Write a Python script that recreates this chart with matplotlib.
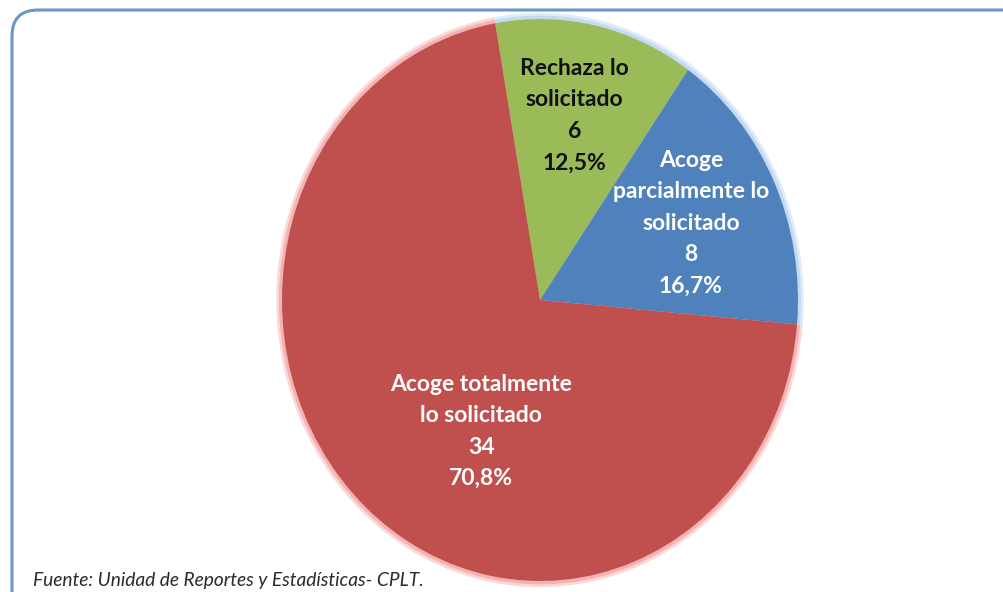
import numpy as np
import matplotlib.pyplot as plt
from matplotlib.patches import FancyBboxPatch

# Datos del gráfico
categorias = ['Rechaza lo\nsolicitado', 'Acoge\nparcialmente lo\nsolicitado',
              'Acoge totalmente\nlo solicitado']
cantidades = [6, 8, 34]
porcentajes = ['12,5%', '16,7%', '70,8%']
colores = ['#9BBB59', '#4F81BD', '#C0504D']
brillos = ['#bcd6f2', '#bcd6f2', '#f4a9a9']
color_texto = ['#111111', 'white', 'white']
fuente = 'Fuente: Unidad de Reportes y Estadísticas- CPLT.'

W, H = 1004, 592
fig = plt.figure(figsize=(W / 100, H / 100), dpi=100)

# Capa de fondo en pixeles (marco y fuente)
fondo = fig.add_axes([0, 0, 1, 1])
fondo.set_xlim(0, W)
fondo.set_ylim(H, 0)
fondo.axis('off')
marco = FancyBboxPatch((12, 10), 1020, 620, boxstyle='round,pad=0,rounding_size=26',
                       fc='white', ec='#6a96c9', lw=2.2)
fondo.add_patch(marco)
fondo.text(33, 589, fuente, fontsize=13.8, style='italic', family='Lato',
           color='#2a2a2a', va='bottom', ha='left')

# Torta elíptica: radio horizontal 258 px, vertical 281 px, centro (540, 300)
ax = fig.add_axes([0, 0, 1, 1])
ax.axis('off')
inicio = 100

# halo difuso alrededor de la torta
for k, a in zip([1.022, 1.012], [0.45, 0.8]):
    ax.pie(cantidades, colors=brillos, startangle=inicio, counterclock=False,
           radius=k, wedgeprops=dict(lw=0, alpha=a))

cuñas, _ = ax.pie(cantidades, colors=colores, startangle=inicio, counterclock=False,
                  radius=1.0, wedgeprops=dict(lw=0))

ax.set_aspect('auto')
ax.set_xlim(-540 / 258, (W - 540) / 258)
ax.set_ylim(-(H - 300) / 281, 300 / 281)

# posición de las etiquetas: (ángulo, distancia radial)
pos_etiquetas = [(78.5, 0.67), (25, 0.645), (244, 0.52)]
for i, (ang, r) in enumerate(pos_etiquetas):
    x = r * np.cos(np.radians(ang))
    y = r * np.sin(np.radians(ang))
    txt = f'{categorias[i]}\n{cantidades[i]}\n{porcentajes[i]}'
    ax.text(x, y, txt, ha='center', va='center', fontsize=16.5, fontweight='bold',
            family='Lato', color=color_texto[i], linespacing=1.62)

fig.savefig('out.png', dpi=100)
